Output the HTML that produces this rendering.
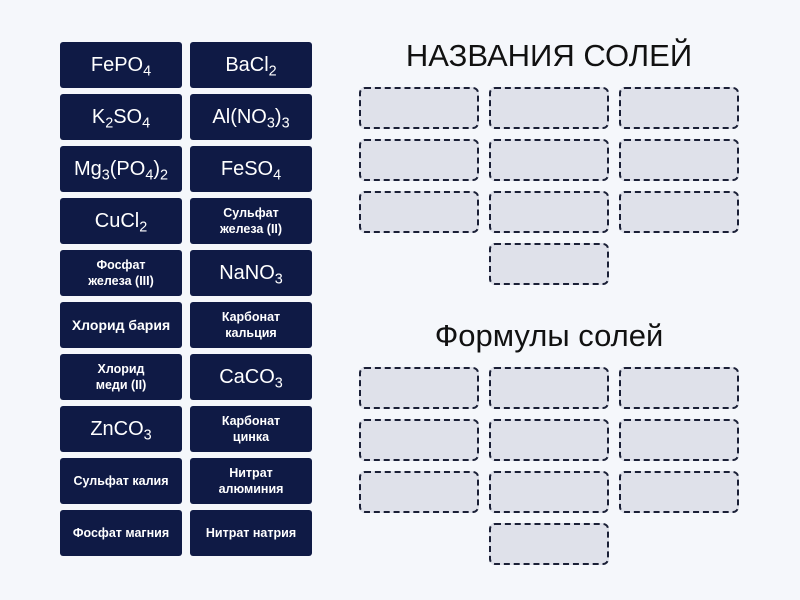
<!DOCTYPE html>
<html><head><meta charset="utf-8"><style>
body{margin:0;width:800px;height:600px;background:#f5f7fb;position:relative;overflow:hidden;font-family:"Liberation Sans","DejaVu Sans",sans-serif}
.t{position:absolute;width:122px;height:46px;background:#0f1a45;border-radius:3px;color:#fff;display:flex;align-items:center;justify-content:center;text-align:center;box-sizing:border-box}
.b{font-size:20px}
.s{font-size:12.5px;font-weight:bold;line-height:16px}
sub{font-size:0.72em;vertical-align:-0.3em;line-height:0}
.d{position:absolute;width:120px;height:42px;background:#dfe1ea;border:2px dashed #1a1f36;border-radius:6px;box-sizing:border-box}
.h{position:absolute;left:349px;width:400px;text-align:center;font-size:31px;color:#111}
</style></head><body>
<div class="t b" style="left:60px;top:42px"><span>FePO<sub>4</sub></span></div>
<div class="t b" style="left:190px;top:42px"><span>BaCl<sub>2</sub></span></div>
<div class="t b" style="left:60px;top:94px"><span>K<sub>2</sub>SO<sub>4</sub></span></div>
<div class="t b" style="left:190px;top:94px"><span>Al(NO<sub>3</sub>)<sub>3</sub></span></div>
<div class="t b" style="left:60px;top:146px"><span>Mg<sub>3</sub>(PO<sub>4</sub>)<sub>2</sub></span></div>
<div class="t b" style="left:190px;top:146px"><span>FeSO<sub>4</sub></span></div>
<div class="t b" style="left:60px;top:198px"><span>CuCl<sub>2</sub></span></div>
<div class="t s" style="left:190px;top:198px"><span>Сульфат<br>железа (II)</span></div>
<div class="t s" style="left:60px;top:250px"><span>Фосфат<br>железа (III)</span></div>
<div class="t b" style="left:190px;top:250px"><span>NaNO<sub>3</sub></span></div>
<div class="t s" style="left:60px;top:302px;font-size:14px"><span>Хлорид бария</span></div>
<div class="t s" style="left:190px;top:302px"><span>Карбонат<br>кальция</span></div>
<div class="t s" style="left:60px;top:354px"><span>Хлорид<br>меди (II)</span></div>
<div class="t b" style="left:190px;top:354px"><span>CaCO<sub>3</sub></span></div>
<div class="t b" style="left:60px;top:406px"><span>ZnCO<sub>3</sub></span></div>
<div class="t s" style="left:190px;top:406px"><span>Карбонат<br>цинка</span></div>
<div class="t s" style="left:60px;top:458px"><span>Сульфат калия</span></div>
<div class="t s" style="left:190px;top:458px"><span>Нитрат<br>алюминия</span></div>
<div class="t s" style="left:60px;top:510px"><span>Фосфат магния</span></div>
<div class="t s" style="left:190px;top:510px"><span>Нитрат натрия</span></div>

<div class="h" style="top:38px">НАЗВАНИЯ СОЛЕЙ</div>
<div class="h" style="top:318px">Формулы солей</div>

<div class="d" style="left:359px;top:87px"></div><div class="d" style="left:489px;top:87px"></div><div class="d" style="left:619px;top:87px"></div>
<div class="d" style="left:359px;top:139px"></div><div class="d" style="left:489px;top:139px"></div><div class="d" style="left:619px;top:139px"></div>
<div class="d" style="left:359px;top:191px"></div><div class="d" style="left:489px;top:191px"></div><div class="d" style="left:619px;top:191px"></div>
<div class="d" style="left:489px;top:243px"></div>

<div class="d" style="left:359px;top:367px"></div><div class="d" style="left:489px;top:367px"></div><div class="d" style="left:619px;top:367px"></div>
<div class="d" style="left:359px;top:419px"></div><div class="d" style="left:489px;top:419px"></div><div class="d" style="left:619px;top:419px"></div>
<div class="d" style="left:359px;top:471px"></div><div class="d" style="left:489px;top:471px"></div><div class="d" style="left:619px;top:471px"></div>
<div class="d" style="left:489px;top:523px"></div>
</body></html>
